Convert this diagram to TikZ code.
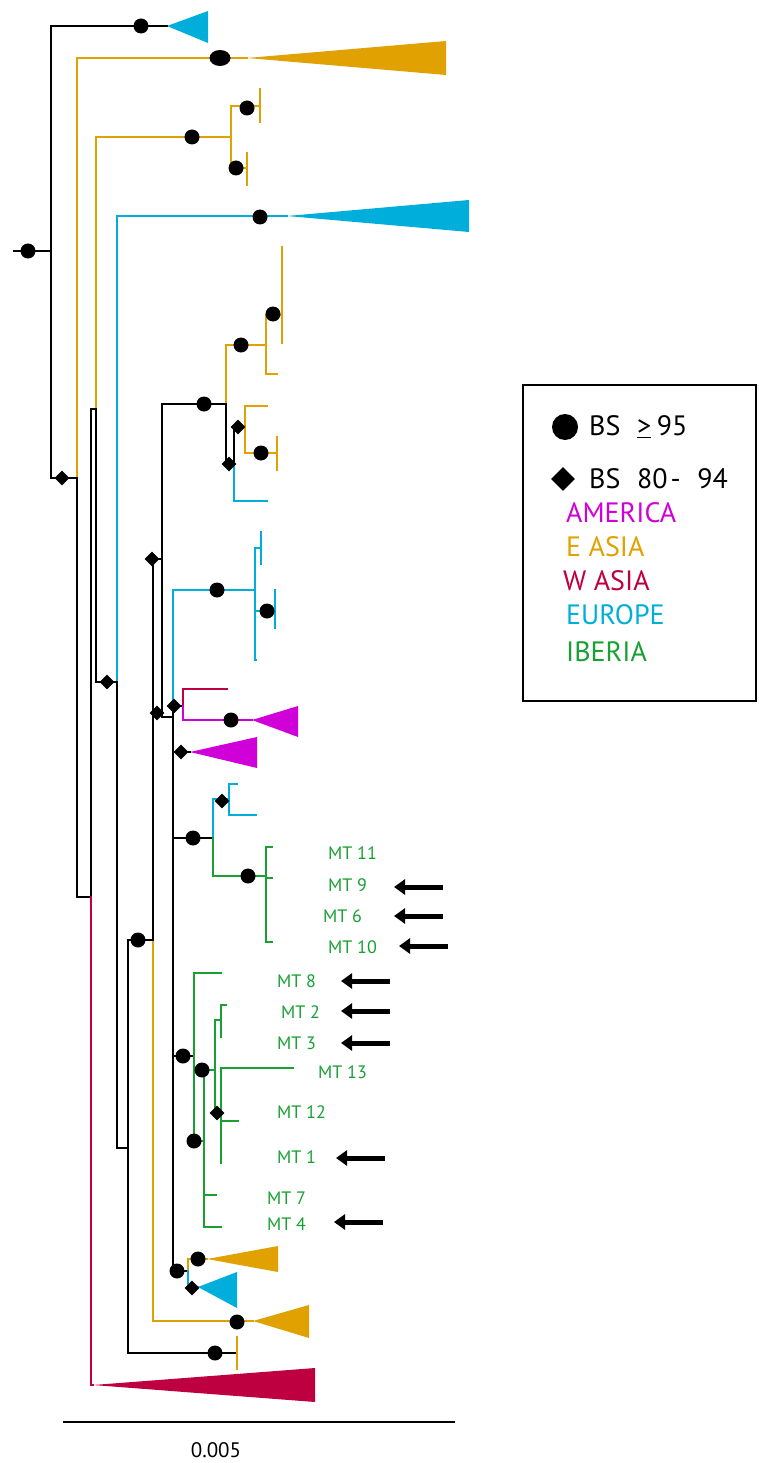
\documentclass[tikz,border=0pt]{standalone}
\usepackage{fontspec}
\setmainfont{PT Sans}
\usetikzlibrary{shapes.geometric, arrows.meta, positioning}
\definecolor{eucyan}{HTML}{00AEDB}
\definecolor{asorange}{HTML}{E1A100}
\definecolor{ammagenta}{HTML}{D000D8}
\definecolor{wared}{HTML}{BE0040}
\definecolor{ibgreen}{HTML}{18A032}

\begin{document}
\begin{tikzpicture}[
    x=1pt, y=-1pt,
    every node/.style={font=\fontsize{18}{20}\selectfont},
    br/.style={line width=1.5pt, line cap=rect},
    bk/.style={br, black},
    eu/.style={br, eucyan},
    ea/.style={br, asorange},
    am/.style={br, ammagenta},
    wa/.style={br, wared},
    ib/.style={br, ibgreen},
    bsc/.style={circle, fill=black, inner sep=0pt, minimum size=15pt},
    bsd/.style={diamond, fill=black, inner sep=0pt, minimum size=15pt},
    mtlab/.style={text=ibgreen, anchor=west, inner sep=0pt},
    mtarrow/.style={-{Triangle[length=11pt,width=15pt]}, line width=5pt},
    leg/.style={anchor=west, inner sep=0pt, font=\fontsize{28}{30}\selectfont}
]
\useasboundingbox (0,0) rectangle (758,1463);

% Tree nodes
\coordinate (root0) at (14,251);
\coordinate (root) at (51,251);
\coordinate (nA) at (77,478);
\coordinate (nN) at (91,897);
\coordinate (nB) at (96,409);
\coordinate (nO) at (231,137);
\coordinate (nC) at (117,682);
\coordinate (nD) at (128,1148);
\coordinate (nE) at (153,940);
\coordinate (nF) at (162,559);
\coordinate (nH) at (226,404);
\coordinate (nI) at (266,345);
\coordinate (nI2) at (282,315);
\coordinate (nJ) at (234,464);
\coordinate (nK) at (245,427);
\coordinate (nK2) at (277,453);
\coordinate (nG) at (173,717);
\coordinate (nL) at (255,590);
\coordinate (nL1) at (261,548);
\coordinate (nL2) at (275,611);
\coordinate (nRM) at (183,706);
\coordinate (nM) at (213,838);
\coordinate (nM1) at (229,799);
\coordinate (nMT) at (266,876);
\coordinate (nP) at (194,1056);
\coordinate (nQ) at (204,1141);
\coordinate (nR) at (215,1070);
\coordinate (nS) at (221,1020);
\coordinate (nT) at (221,1113);
\coordinate (nZ) at (188,1271);

% Tips
\coordinate (tEuTop) at (167,26);
\coordinate (tEaTop) at (247,58);
\coordinate (tO1) at (260,106);
\coordinate (tO2) at (247,168);
\coordinate (tEu2) at (287,216);
\coordinate (tI) at (277,374);
\coordinate (tJ) at (267,501);
\coordinate (tK) at (267,406);
\coordinate (tL3) at (256,660);
\coordinate (tWa1) at (227,689);
\coordinate (tAm1) at (252,720);
\coordinate (tAm2) at (190,752);
\coordinate (tM1a) at (237,784);
\coordinate (tM1b) at (256,815);
\coordinate (tMT11) at (272,847);
\coordinate (tMT9) at (272,878);
\coordinate (tMT10) at (272,942);
\coordinate (tMT8) at (221,973);
\coordinate (tS1) at (226,1005);
\coordinate (tS2) at (221,1037);
\coordinate (tMT13) at (293,1068);
\coordinate (tMT12) at (238,1121);
\coordinate (tMT1) at (221,1163);
\coordinate (tMT7) at (216,1195);
\coordinate (tMT4) at (221,1227);
\coordinate (tZo) at (207,1259);
\coordinate (tZc) at (198,1287);
\coordinate (tEa3) at (253,1321);
\coordinate (tBk) at (237,1353);
\coordinate (tWa) at (93,1385);

% Collapsed clades
\fill[eucyan] (tEuTop) -- (208,11) -- (208,43) -- cycle;
\fill[asorange] (tEaTop) -- (446,41) -- (446,75) -- cycle;
\fill[eucyan] (tEu2) -- (469,200) -- (469,232) -- cycle;
\fill[ammagenta] (tAm1) -- (298,706) -- (298,737) -- cycle;
\fill[ammagenta] (tAm2) -- (257,737) -- (257,768) -- cycle;
\fill[asorange] (tZo) -- (278,1246) -- (278,1272) -- cycle;
\fill[eucyan] (tZc) -- (237,1272) -- (237,1308) -- cycle;
\fill[asorange] (tEa3) -- (309,1305) -- (309,1338) -- cycle;
\fill[wared] (tWa) -- (315,1368) -- (315,1402) -- cycle;

% Branches
\draw[bk] (root0) -- (root);
\draw[bk] (root) |- (tEuTop);
\draw[bk] (root) |- (nA);
\draw[ea] (nA) |- (tEaTop);
\draw[bk] (nA) |- (nN);
\draw[bk] (nN) |- (nB);
\draw[wa] (nN) |- (tWa);
\draw[ea] (nB) |- (nO);
\draw[bk] (nB) |- (nC);
\draw[ea] (nO) |- (tO1);
\draw[ea] (nO) |- (tO2);
\draw[ea] (260,89) -- (260,122);
\draw[ea] (247,153) -- (247,185);
\draw[eu] (nC) |- (tEu2);
\draw[bk] (nC) |- (nD);
\draw[bk] (nD) |- (nE);
\draw[bk] (nD) |- (tBk);
\draw[ea] (237,1337) -- (237,1369);
\draw[ea] (nE) |- (tEa3);
\draw[bk] (nE) |- (nF);
\draw[bk] (nF) |- (nH);
\draw[bk] (nF) |- (nG);
\draw[ea] (nH) |- (nI);
\draw[bk] (nH) |- (nJ);
\draw[ea] (nI) |- (nI2);
\draw[ea] (nI) |- (tI);
\draw[ea] (282,247) -- (282,343);
\draw[eu] (nJ) |- (tJ);
\draw[bk] (nJ) |- (nK);
\draw[ea] (nK) |- (tK);
\draw[ea] (nK) |- (nK2);
\draw[ea] (277,437) -- (277,470);
\draw[eu] (nG) |- (nL);
\draw[eu] (nL) |- (nL1);
\draw[eu] (nL) |- (nL2);
\draw[eu] (nL) |- (tL3);
\draw[eu] (261,532) -- (261,564);
\draw[eu] (275,590) -- (275,628);
\draw[bk] (nG) |- (nRM);
\draw[wa] (nRM) |- (tWa1);
\draw[am] (nRM) |- (tAm1);
\draw[bk] (nG) |- (tAm2);
\draw[bk] (nG) |- (nM);
\draw[eu] (nM) |- (nM1);
\draw[eu] (nM1) |- (tM1a);
\draw[eu] (nM1) |- (tM1b);
\draw[ib] (nM) |- (nMT);
\draw[ib] (nMT) |- (tMT11);
\draw[ib] (nMT) |- (tMT9);
\draw[ib] (nMT) |- (tMT10);
\draw[bk] (nG) |- (nP);
\draw[ib] (nP) |- (tMT8);
\draw[ib] (nP) |- (nQ);
\draw[ib] (nQ) |- (nR);
\draw[ib] (nQ) |- (tMT7);
\draw[ib] (nQ) |- (tMT4);
\draw[ib] (nR) |- (nS);
\draw[ib] (nR) |- (nT);
\draw[ib] (nS) |- (tS1);
\draw[ib] (nS) |- (tS2);
\draw[ib] (nT) |- (tMT13);
\draw[ib] (nT) |- (tMT12);
\draw[ib] (nT) |- (tMT1);
\draw[bk] (nG) |- (nZ);
\draw[ea] (nZ) |- (tZo);
\draw[eu] (nZ) |- (tZc);

% Support values
\foreach \p [count=\i] in {(28,251),(141,26),(192,137),(247,108),(236,168),
    (260,217),(241,345),(273,314),(204,404),(261,453),(217,590),(267,611),
    (231,720),(193,838),(248,876),(138,940),(183,1056),(202,1070),(194,1141),
    (177,1271),(198,1259),(237,1322),(215,1353)}
  \node[bsc] (bs\i) at \p {};
\node[ellipse, fill=black, inner sep=0pt, minimum width=21pt, minimum height=16pt] (bsTop) at (220,58) {};
\foreach \p [count=\i] in {(62,478),(107,682),(152,559),(157,713),(229,464),
    (238,427),(174,706),(181,752),(222,801),(217,1113),(192,1288)}
  \node[bsd] (bd\i) at \p {};

% Labels
\node[mtlab] (mt11) at (328,853) {MT 11};
\node[mtlab] (mt9) at (328,885) {MT 9};
\node[mtlab] (mt6) at (323,916) {MT 6};
\node[mtlab] (mt10) at (328,947) {MT 10};
\node[mtlab] (mt8) at (277,981) {MT 8};
\node[mtlab] (mt2) at (281,1012) {MT 2};
\node[mtlab] (mt3) at (277,1043) {MT 3};
\node[mtlab] (mt13) at (318,1072) {MT 13};
\node[mtlab] (mt12) at (277,1112) {MT 12};
\node[mtlab] (mt1) at (277,1157) {MT 1};
\node[mtlab] (mt7) at (267,1198) {MT 7};
\node[mtlab] (mt4) at (267,1224) {MT 4};

% Arrows
\coordinate (a9) at (443,887);
\coordinate (a6) at (443,916);
\coordinate (a10) at (448,946);
\coordinate (a8) at (390,981);
\coordinate (a2) at (390,1011);
\coordinate (a3) at (390,1043);
\coordinate (a1) at (385,1158);
\coordinate (a4) at (383,1222);
\foreach \a in {a9,a6,a10,a8,a2,a3,a1,a4}
  \draw[mtarrow] (\a) -- ++(-49,0);

% Scale bar
\coordinate (sb0) at (63,1422);
\coordinate (sb1) at (455,1422);
\draw[line width=1.4pt] (sb0) -- (sb1);
\node[font=\fontsize{21}{23}\selectfont] (sblab) at (216,1450) {0.005};

% Legend
\draw[line width=1.6pt] (523,385) rectangle (756,701);
\node[bsc, minimum size=26pt] (legc) at (565,427) {};
\node[bsd, minimum size=24pt] (legd) at (563,479) {};
\node[leg] (leg1) at (589,427) {BS\hspace{0.6em}\underline{>}\hspace{0.2em}95};
\node[leg] (leg2) at (589,479) {BS\hspace{0.6em}80\hspace{0.1em}-\hspace{0.6em}94};
\node[leg, text=ammagenta] (legam) at (566,513) {AMERICA};
\node[leg, text=asorange] (legea) at (566,547) {E ASIA};
\node[leg, text=wared] (legwa) at (563,581) {W ASIA};
\node[leg, text=eucyan] (legeu) at (566,615) {EUROPE};
\node[leg, text=ibgreen] (legib) at (566,652) {IBERIA};

\end{tikzpicture}
\end{document}
